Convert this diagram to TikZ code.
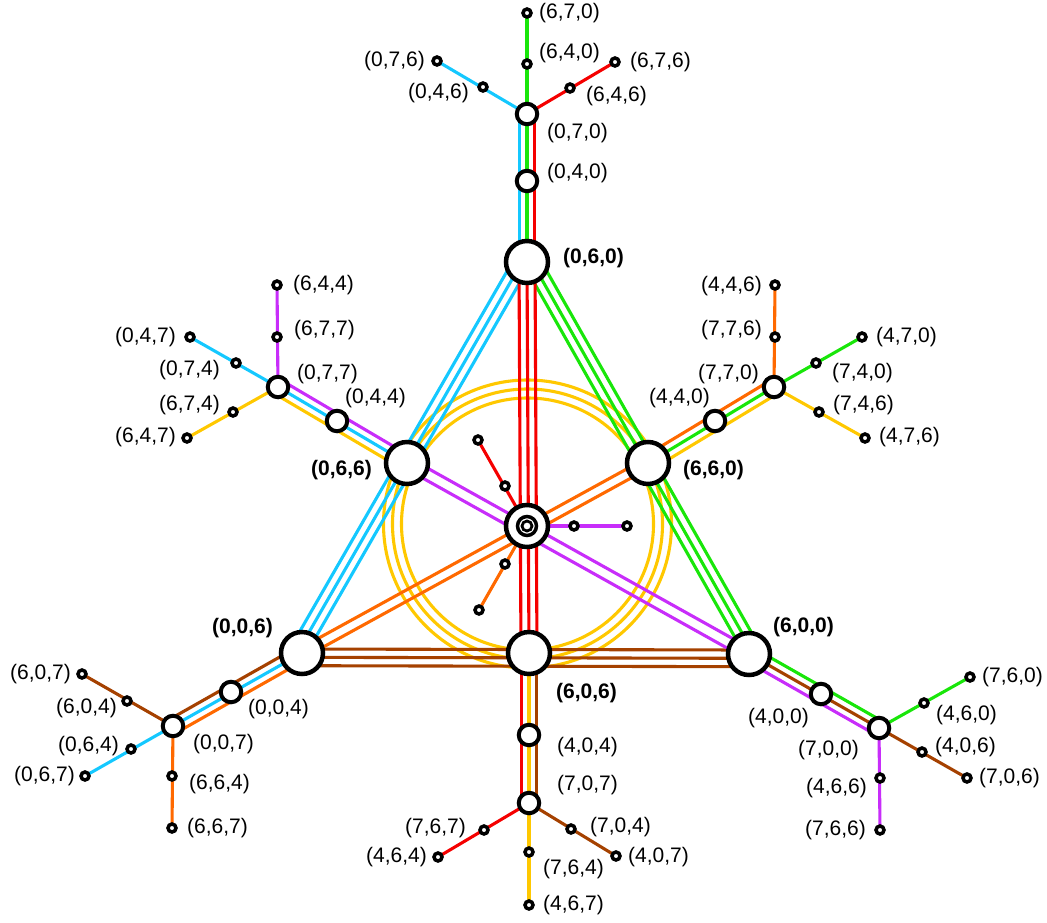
\documentclass[tikz,border=0pt]{standalone}
\usepackage{fontspec}
\setmainfont{Liberation Sans}
\usetikzlibrary{calc}
\pgfdeclarelayer{bg}
\pgfsetlayers{bg,main}
\definecolor{cy}{RGB}{20,200,255}
\definecolor{gr}{RGB}{25,230,10}
\definecolor{rd}{RGB}{245,0,0}
\definecolor{pu}{RGB}{200,45,250}
\definecolor{og}{RGB}{255,105,0}
\definecolor{yl}{RGB}{255,200,0}
\definecolor{br}{RGB}{165,65,0}
\newcommand\sL[4]{\draw[ln,#1] ($(#2)!#4!90:(#3)$) -- ($(#3)!#4!270:(#2)$);}
\newcommand\sR[4]{\draw[ln,#1] ($(#2)!#4!270:(#3)$) -- ($(#3)!#4!90:(#2)$);}
\newcommand\sC[3]{\draw[ln,#1] (#2.center) -- (#3.center);}
\begin{document}
\begin{tikzpicture}[x=1pt,y=-1pt,
  big/.style={circle,draw,fill=white,line width=4.5pt,minimum size=42pt,inner sep=0pt},
  med/.style={circle,draw,fill=white,line width=4pt,minimum size=20.5pt,inner sep=0pt},
  sml/.style={circle,draw,fill=white,line width=3.5pt,minimum size=8pt,inner sep=0pt},
  lab/.style={inner sep=0pt,font=\fontsize{21}{21}\selectfont},
  blab/.style={inner sep=0pt,font=\fontsize{21}{21}\selectfont\bfseries},
  ln/.style={line width=3.1pt}]
\useasboundingbox (0,0) rectangle (1047,922);
% top branch
\node[big] (n060) at (527,262) {};
\node[blab,anchor=west] (t060) at (563,258) {(0,6,0)};
\node[med] (n040) at (527,181) {};
\node[lab,anchor=west] (t040) at (547,173) {(0,4,0)};
\node[med] (n070) at (527,114) {};
\node[lab,anchor=west] (t070) at (547,133) {(0,7,0)};
\node[sml] (n640) at (527,64) {};
\node[lab,anchor=west] (t640) at (539,53) {(6,4,0)};
\node[sml] (n670) at (527,13) {};
\node[lab,anchor=west] (t670) at (539,13) {(6,7,0)};
\node[sml] (n046) at (483,87) {};
\node[lab,anchor=east] (t046) at (469,93) {(0,4,6)};
\node[sml] (n076) at (437,61) {};
\node[lab,anchor=east] (t076) at (425,61) {(0,7,6)};
\node[sml] (n646) at (570,88) {};
\node[lab,anchor=west] (t646) at (586,96) {(6,4,6)};
\node[sml] (n676) at (615,62) {};
\node[lab,anchor=west] (t676) at (630,62) {(6,7,6)};
% upper-left branch
\node[big] (n066) at (407,463) {};
\node[blab,anchor=east] (t066) at (372,470) {(0,6,6)};
\node[med] (n044) at (337,421) {};
\node[lab,anchor=west] (t044) at (345,398) {(0,4,4)};
\node[med] (n077) at (278,387) {};
\node[lab,anchor=west] (t077) at (297,374) {(0,7,7)};
\node[sml] (n074) at (236,363) {};
\node[lab,anchor=east] (t074) at (220,370) {(0,7,4)};
\node[sml] (n047) at (190,337) {};
\node[lab,anchor=east] (t047) at (176,337) {(0,4,7)};
\node[sml] (n677) at (277,337) {};
\node[lab,anchor=west] (t677) at (294,330) {(6,7,7)};
\node[sml] (n644) at (277,285) {};
\node[lab,anchor=west] (t644) at (293,285) {(6,4,4)};
\node[sml] (n674) at (233,412) {};
\node[lab,anchor=east] (t674) at (220,405) {(6,7,4)};
\node[sml] (n647) at (187,438) {};
\node[lab,anchor=east] (t647) at (176,437) {(6,4,7)};
% upper-right branch
\node[big] (n660) at (648,463) {};
\node[blab,anchor=west] (t660) at (683,470) {(6,6,0)};
\node[med] (n440) at (715,421) {};
\node[lab,anchor=east] (t440) at (710,398) {(4,4,0)};
\node[med] (n770) at (774,387) {};
\node[lab,anchor=east] (t770) at (759,374) {(7,7,0)};
\node[sml] (n776) at (775,337) {};
\node[lab,anchor=east] (t776) at (762,330) {(7,7,6)};
\node[sml] (n446) at (775,285) {};
\node[lab,anchor=east] (t446) at (762,286) {(4,4,6)};
\node[sml] (n740) at (816,363) {};
\node[lab,anchor=west] (t740) at (832,373) {(7,4,0)};
\node[sml] (n470) at (862,337) {};
\node[lab,anchor=west] (t470) at (876,337) {(4,7,0)};
\node[sml] (n746) at (819,412) {};
\node[lab,anchor=west] (t746) at (833,405) {(7,4,6)};
\node[sml] (n476) at (865,438) {};
\node[lab,anchor=west] (t476) at (879,437) {(4,7,6)};
% lower-left branch
\node[big] (n006) at (302,653) {};
\node[blab,anchor=east] (t006) at (273,628) {(0,0,6)};
\node[med] (n004) at (231,692) {};
\node[lab,anchor=west] (t004) at (248,709) {(0,0,4)};
\node[med] (n007) at (173,726) {};
\node[lab,anchor=west] (t007) at (193,744) {(0,0,7)};
\node[sml] (n604) at (127,701) {};
\node[lab,anchor=east] (t604) at (117,708) {(6,0,4)};
\node[sml] (n607) at (82,674) {};
\node[lab,anchor=east] (t607) at (71,674) {(6,0,7)};
\node[sml] (n064) at (131,749) {};
\node[lab,anchor=east] (t064) at (119,746) {(0,6,4)};
\node[sml] (n067) at (85,776) {};
\node[lab,anchor=east] (t067) at (75,776) {(0,6,7)};
\node[sml] (n664) at (172,776) {};
\node[lab,anchor=west] (t664) at (189,784) {(6,6,4)};
\node[sml] (n667) at (172,828) {};
\node[lab,anchor=west] (t667) at (187,828) {(6,6,7)};
% bottom branch
\node[big] (n606) at (529,653) {};
\node[blab,anchor=west] (t606) at (556,693) {(6,0,6)};
\node[med] (n404) at (529,735) {};
\node[lab,anchor=west] (t404) at (557,747) {(4,0,4)};
\node[med] (n707) at (529,803) {};
\node[lab,anchor=west] (t707) at (557,785) {(7,0,7)};
\node[sml] (n767) at (484,830) {};
\node[lab,anchor=east] (t767) at (466,828) {(7,6,7)};
\node[sml] (n464) at (438,857) {};
\node[lab,anchor=east] (t464) at (427,857) {(4,6,4)};
\node[sml] (n764) at (529,852) {};
\node[lab,anchor=west] (t764) at (543,869) {(7,6,4)};
\node[sml] (n467) at (529,905) {};
\node[lab,anchor=west] (t467) at (543,905) {(4,6,7)};
\node[sml] (n704) at (571,829) {};
\node[lab,anchor=west] (t704) at (590,827) {(7,0,4)};
\node[sml] (n407) at (616,856) {};
\node[lab,anchor=west] (t407) at (628,857) {(4,0,7)};
% lower-right branch
\node[big] (n600) at (749,654) {};
\node[blab,anchor=west] (t600) at (773,627) {(6,0,0)};
\node[med] (n400) at (821,694) {};
\node[lab,anchor=east] (t400) at (809,718) {(4,0,0)};
\node[med] (n700) at (879,728) {};
\node[lab,anchor=east] (t700) at (859,750) {(7,0,0)};
\node[sml] (n760) at (970,677) {};
\node[lab,anchor=west] (t760) at (982,677) {(7,6,0)};
\node[sml] (n460) at (924,703) {};
\node[lab,anchor=west] (t460) at (936,715) {(4,6,0)};
\node[sml] (n406) at (922,752) {};
\node[lab,anchor=west] (t406) at (935,747) {(4,0,6)};
\node[sml] (n706) at (967,778) {};
\node[lab,anchor=west] (t706) at (979,778) {(7,0,6)};
\node[sml] (n466) at (880,778) {};
\node[lab,anchor=east] (t466) at (867,788) {(4,6,6)};
\node[sml] (n766) at (880,830) {};
\node[lab,anchor=east] (t766) at (866,830) {(7,6,6)};
% centre
\node[big] (c) at (527,526) {};
\draw[line width=3.5pt] (c.center) circle (9.5pt);
\draw[line width=2.8pt] (c.center) circle (5pt);
\node[sml] (r1) at (505,486) {};
\node[sml] (r2) at (478,440) {};
\node[sml] (p1) at (574,526) {};
\node[sml] (p2) at (627,526) {};
\node[sml] (o1) at (505,564) {};
\node[sml] (o2) at (479,610) {};
\begin{pgfonlayer}{bg}
% yellow circles
\foreach \r in {126,135,144} \draw[ln,yl] (527.5,524) circle (\r pt);
% triangle edges
\sL{cy}{n060}{n006}{4pt} \sR{cy}{n060}{n006}{4.3pt} \sR{cy}{n060}{n006}{12.7pt}
\sR{gr}{n060}{n600}{4pt} \sL{gr}{n060}{n600}{4.3pt} \sL{gr}{n060}{n600}{12.7pt}
\sL{br}{n006}{n600}{4pt} \sR{br}{n006}{n600}{4.3pt} \sR{br}{n006}{n600}{12.7pt}
% medians
\sL{rd}{n060}{n606}{8pt} \sC{rd}{n060}{n606} \sR{rd}{n060}{n606}{8pt}
\sL{pu}{n066}{n600}{5.5pt} \sR{pu}{n066}{n600}{5.5pt}
\sL{og}{n006}{n660}{5pt} \sR{og}{n006}{n660}{5pt}
% spokes
\sC{rd}{c}{r2} \sC{pu}{c}{p2} \sC{og}{c}{o2}
% branches
\sL{cy}{n060}{n070}{7.5pt} \sC{gr}{n060}{n070} \sR{rd}{n060}{n070}{7.5pt}
\sC{cy}{n070}{n076} \sC{gr}{n070}{n670} \sC{rd}{n070}{n676}
\sL{yl}{n066}{n077}{7.5pt} \sC{cy}{n066}{n077} \sR{pu}{n066}{n077}{7.5pt}
\sC{pu}{n077}{n644} \sC{cy}{n077}{n047} \sC{yl}{n077}{n647}
\sL{og}{n660}{n770}{7.5pt} \sC{gr}{n660}{n770} \sR{yl}{n660}{n770}{7.5pt}
\sC{og}{n770}{n446} \sC{gr}{n770}{n470} \sC{yl}{n770}{n476}
\sL{og}{n006}{n007}{7.5pt} \sC{cy}{n006}{n007} \sR{br}{n006}{n007}{7.5pt}
\sC{br}{n007}{n607} \sC{cy}{n007}{n067} \sC{og}{n007}{n667}
\sL{br}{n606}{n707}{7.5pt} \sC{yl}{n606}{n707} \sR{rd}{n606}{n707}{7.5pt}
\sC{rd}{n707}{n464} \sC{yl}{n707}{n467} \sC{br}{n707}{n407}
\sL{gr}{n600}{n700}{7.5pt} \sC{br}{n600}{n700} \sR{pu}{n600}{n700}{7.5pt}
\sC{gr}{n700}{n760} \sC{br}{n700}{n706} \sC{pu}{n700}{n766}
\end{pgfonlayer}
\end{tikzpicture}
\end{document}
